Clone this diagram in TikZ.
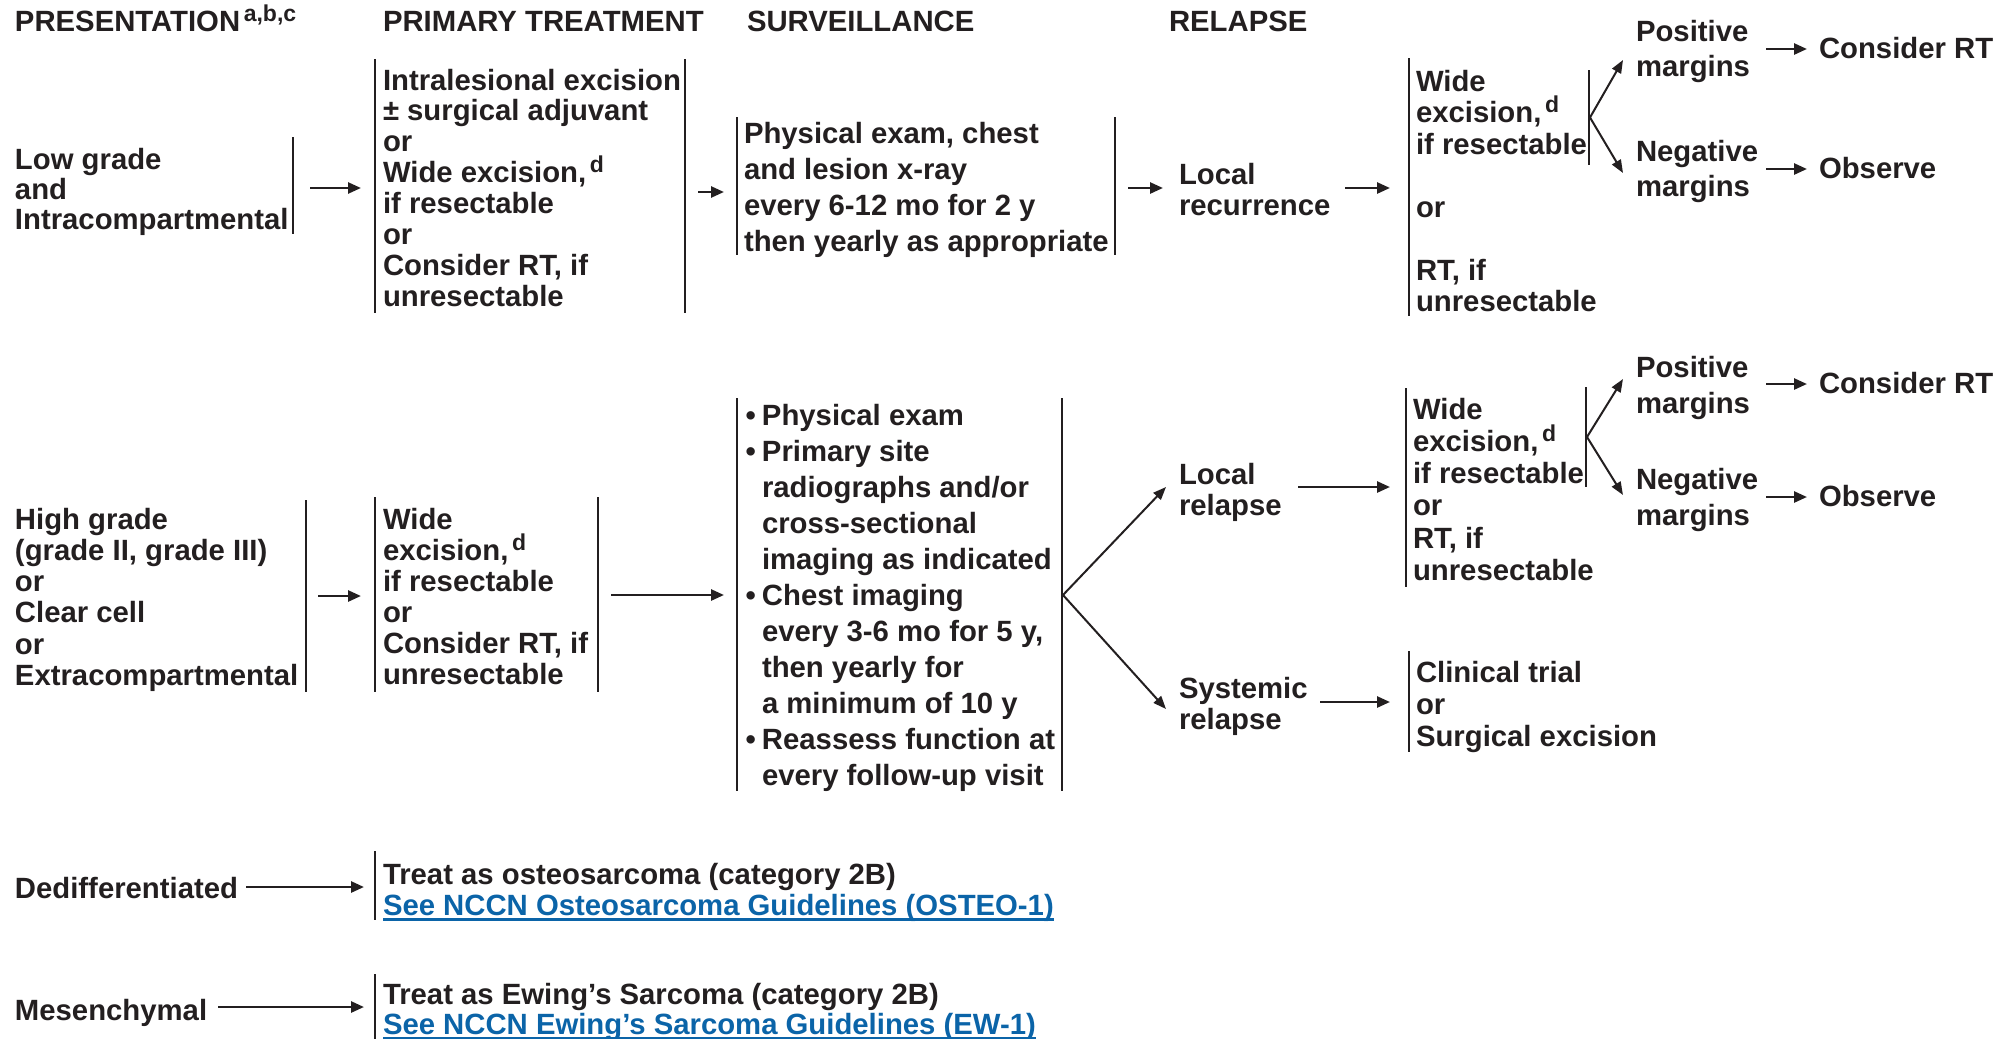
\documentclass[tikz,border=0pt]{standalone}
\usepackage{fontspec}
\setmainfont{Liberation Sans}
\usetikzlibrary{arrows.meta}

\definecolor{ink}{HTML}{231F20}
\definecolor{linkblue}{HTML}{0B64A8}

% left-aligned stack of \hbox lines; #1 = distance between baselines
\newcommand{\rows}[2]{\vtop{\baselineskip=#1\lineskiplimit=-\maxdimen\lineskip=0pt #2}}
\newcommand{\lin}[1]{\hbox{#1}}
% footnote marks
\newcommand{\fnmark}[1]{\kern1.8pt\raise5pt\hbox{\fontsize{11.5pt}{11.5pt}\selectfont #1}}
% bullet hanging left of the text column
\newcommand{\bul}{\llap{\textbullet\kern3pt}}
% blue underlined cross reference
\newcommand{\xref}[1]{{\color{linkblue}\setbox0\hbox{#1}%
  \rlap{\vrule height -1.6pt depth 2.8pt width \wd0}\box0}}

\tikzset{
  txt/.style={anchor=base west, inner sep=0pt, outer sep=0pt, text=ink,
              font=\fontsize{14.65pt}{15.5pt}\selectfont\bfseries},
  bar/.style={draw=ink, line width=1pt},
  arr/.style={draw=ink, line width=1.3pt, -{Triangle[length=6.5pt,width=5.5pt]}},
  fork/.style={draw=ink, line width=1pt, -{Triangle[length=6.5pt,width=5pt]}},
}

\begin{document}
\begin{tikzpicture}[x=0.5pt,y=-0.5pt]
\useasboundingbox (0,0) rectangle (2009,1039);

% ---------- column headings ----------
\node[txt] (hpres) at (15,31)   {PRESENTATION\fnmark{a,b,c}};
\node[txt] (hprim) at (383,31)  {PRIMARY TREATMENT};
\node[txt] (hsurv) at (747,31)  {SURVEILLANCE};
\node[txt] (hrel)  at (1169,31) {RELAPSE};

% ---------- low grade, intracompartmental ----------
\node[txt] (pres1) at (15,169) {\rows{15pt}{\lin{Low grade}\lin{and}\lin{Intracompartmental}}};
\draw[bar] (293,137) -- (293,234);
\coordinate (a1s) at (310,188); \coordinate (a1e) at (361,188);
\draw[arr] (a1s) -- (a1e);

\node[txt] (prim1) at (383,90) {\rows{15.45pt}{\lin{Intralesional excision}\lin{\textpm{} surgical adjuvant}\lin{or}\lin{Wide excision,\fnmark{d}}\lin{if resectable}\lin{or}\lin{Consider RT, if}\lin{unresectable}}};
\draw[bar] (375,59) -- (375,313);
\draw[bar] (685,59) -- (685,313);
\coordinate (a2s) at (698,192); \coordinate (a2e) at (724,192);
\draw[arr] (a2s) -- (a2e);

\node[txt] (surv1) at (744,143.5) {\rows{17.95pt}{\lin{Physical exam, chest}\lin{and lesion x-ray}\lin{every 6-12 mo for 2 y}\lin{then yearly as appropriate}}};
\draw[bar] (737,117) -- (737,255);
\draw[bar] (1115,117) -- (1115,255);
\coordinate (a3s) at (1128,188); \coordinate (a3e) at (1163,188);
\draw[arr] (a3s) -- (a3e);

\node[txt] (rec1) at (1179,184.5) {\rows{15.25pt}{\lin{Local}\lin{recurrence}}};
\coordinate (a4s) at (1345,188); \coordinate (a4e) at (1390,188);
\draw[arr] (a4s) -- (a4e);

\node[txt] (tx1) at (1416,91) {\rows{15.75pt}{\lin{Wide}\lin{excision,\fnmark{d}}\lin{if resectable}\lin{}\lin{or}\lin{}\lin{RT, if}\lin{unresectable}}};
\draw[bar] (1409,58) -- (1409,316);
\draw[bar] (1589,70) -- (1589,165);
\coordinate (f1) at (1590,117.5);
\node[txt] (pos1) at (1636,41)    {\rows{17.5pt}{\lin{Positive}\lin{margins}}};
\node[txt] (neg1) at (1636,161.5) {\rows{17.5pt}{\lin{Negative}\lin{margins}}};
\coordinate (f1p) at (1623,60); \coordinate (f1n) at (1623,173);
\draw[fork] (f1) -- (f1p);
\draw[fork] (f1) -- (f1n);
\coordinate (a5s) at (1766,49); \coordinate (a5e) at (1807,49);
\draw[arr] (a5s) -- (a5e);
\node[txt] (crt1) at (1819,58) {Consider RT};
\coordinate (a6s) at (1766,169); \coordinate (a6e) at (1807,169);
\draw[arr] (a6s) -- (a6e);
\node[txt] (obs1) at (1819,178) {Observe};

% ---------- high grade / clear cell / extracompartmental ----------
\node[txt] (pres2) at (15,529) {\rows{15.65pt}{\lin{High grade}\lin{(grade II, grade III)}\lin{or}\lin{Clear cell}\lin{or}\lin{Extracompartmental}}};
\draw[bar] (306,500) -- (306,692);
\coordinate (b1s) at (318,596); \coordinate (b1e) at (361,596);
\draw[arr] (b1s) -- (b1e);

\node[txt] (prim2) at (383,529) {\rows{15.5pt}{\lin{Wide}\lin{excision,\fnmark{d}}\lin{if resectable}\lin{or}\lin{Consider RT, if}\lin{unresectable}}};
\draw[bar] (375,497) -- (375,692);
\draw[bar] (598,497) -- (598,692);
\coordinate (b2s) at (611,595); \coordinate (b2e) at (724,595);
\draw[arr] (b2s) -- (b2e);

\node[txt] (surv2) at (762,425) {\rows{18pt}{\lin{\bul Physical exam}\lin{\bul Primary site}\lin{radiographs and/or}\lin{cross-sectional}\lin{imaging as indicated}\lin{\bul Chest imaging}\lin{every 3-6 mo for 5 y,}\lin{then yearly for}\lin{a minimum of 10 y}\lin{\bul Reassess function at}\lin{every follow-up visit}}};
\draw[bar] (737,398) -- (737,791);
\draw[bar] (1062,398) -- (1062,791);
\coordinate (f2) at (1063,595);
\coordinate (f2l) at (1166,487); \coordinate (f2s) at (1166,709);
\draw[fork] (f2) -- (f2l);
\draw[fork] (f2) -- (f2s);

\node[txt] (loc2) at (1179,484) {\rows{15.5pt}{\lin{Local}\lin{relapse}}};
\coordinate (b3s) at (1298,487); \coordinate (b3e) at (1390,487);
\draw[arr] (b3s) -- (b3e);

\node[txt] (tx2) at (1413,419) {\rows{16.15pt}{\lin{Wide}\lin{excision,\fnmark{d}}\lin{if resectable}\lin{or}\lin{RT, if}\lin{unresectable}}};
\draw[bar] (1406,388) -- (1406,587);
\draw[bar] (1586,387) -- (1586,487);
\coordinate (f3) at (1587,437);
\node[txt] (pos2) at (1636,377) {\rows{18pt}{\lin{Positive}\lin{margins}}};
\node[txt] (neg2) at (1636,489) {\rows{18pt}{\lin{Negative}\lin{margins}}};
\coordinate (f3p) at (1623,379); \coordinate (f3n) at (1623,495);
\draw[fork] (f3) -- (f3p);
\draw[fork] (f3) -- (f3n);
\coordinate (b4s) at (1766,384); \coordinate (b4e) at (1807,384);
\draw[arr] (b4s) -- (b4e);
\node[txt] (crt2) at (1819,393) {Consider RT};
\coordinate (b5s) at (1766,497); \coordinate (b5e) at (1807,497);
\draw[arr] (b5s) -- (b5e);
\node[txt] (obs2) at (1819,506) {Observe};

\node[txt] (sys2) at (1179,698) {\rows{15.5pt}{\lin{Systemic}\lin{relapse}}};
\coordinate (b6s) at (1320,702); \coordinate (b6e) at (1390,702);
\draw[arr] (b6s) -- (b6e);
\node[txt] (ct2) at (1416,682) {\rows{16pt}{\lin{Clinical trial}\lin{or}\lin{Surgical excision}}};
\draw[bar] (1409,651) -- (1409,752);

% ---------- dedifferentiated ----------
\node[txt] (ded) at (15,898) {Dedifferentiated};
\coordinate (c1s) at (246,887); \coordinate (c1e) at (364,887);
\draw[arr] (c1s) -- (c1e);
\draw[bar] (375,851) -- (375,920);
\node[txt] (osteo) at (383,884) {Treat as osteosarcoma (category 2B)};
\node[txt] (osteolink) at (383,915) {\xref{See NCCN Osteosarcoma Guidelines (OSTEO-1)}};

% ---------- mesenchymal ----------
\node[txt] (mes) at (15,1020) {Mesenchymal};
\coordinate (c2s) at (218,1007); \coordinate (c2e) at (364,1007);
\draw[arr] (c2s) -- (c2e);
\draw[bar] (375,974) -- (375,1039);
\node[txt] (ewing) at (383,1004.5) {Treat as Ewing’s Sarcoma (category 2B)};
\node[txt] (ewinglink) at (383,1034) {\xref{See NCCN Ewing’s Sarcoma Guidelines (EW-1)}};
\end{tikzpicture}
\end{document}
